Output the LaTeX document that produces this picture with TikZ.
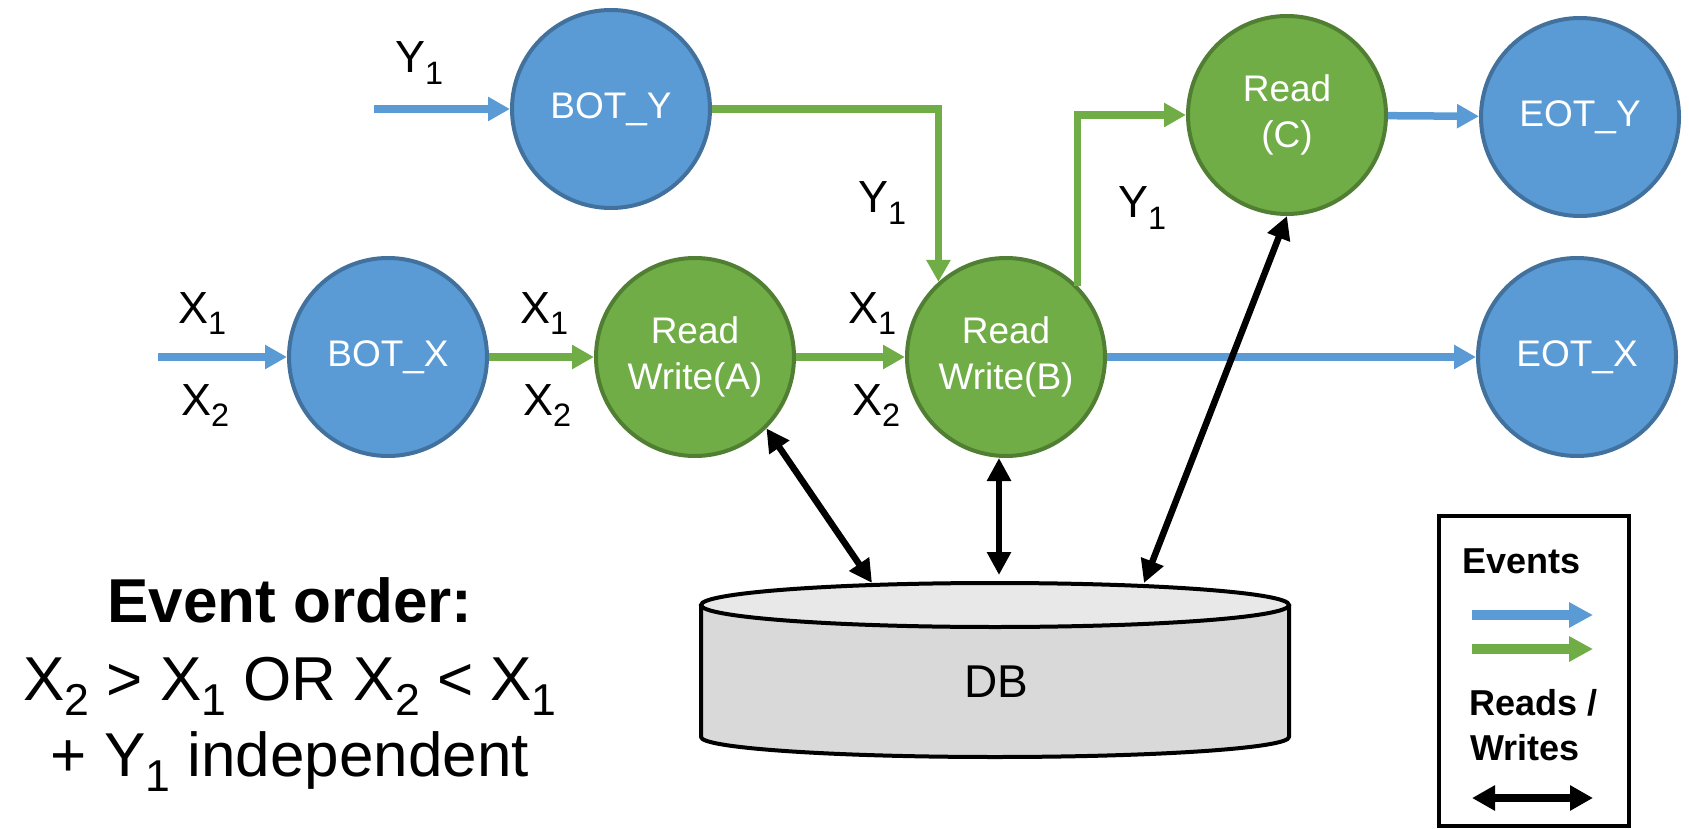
\documentclass[tikz,border=0pt]{standalone}
\usepackage{fontspec}
\setmainfont{Liberation Sans}
\usetikzlibrary{arrows.meta,calc}
\definecolor{nodeblue}{HTML}{5B9BD5}
\definecolor{blueedge}{HTML}{41719C}
\definecolor{nodegreen}{HTML}{70AD47}
\definecolor{greenedge}{HTML}{507E32}
\definecolor{dbtop}{HTML}{E8E8E8}
\definecolor{dbside}{HTML}{D9D9D9}
\newcommand\lowsub[1]{\raisebox{-0.25em}{\scalebox{0.72}{#1}}}
\begin{document}
\begin{tikzpicture}[x=1pt,y=-1pt,
  bluecirc/.style={circle, fill=nodeblue, draw=blueedge, line width=4pt,
    minimum size=198pt, inner sep=0pt, text=white,
    font=\fontsize{37}{46}\selectfont, align=center},
  greencirc/.style={bluecirc, fill=nodegreen, draw=greenedge},
  bluearrow/.style={draw=nodeblue, line width=7.5pt, -{Triangle[length=22pt,width=23pt]}},
  greenarrow/.style={bluearrow, draw=nodegreen},
  rwarrow/.style={draw=black, line width=6.5pt,
    {Triangle[length=23pt,width=23pt]}-{Triangle[length=23pt,width=23pt]}},
  lbl/.style={anchor=base west, inner sep=0pt, font=\fontsize{45}{54}\selectfont},
  ordertxt/.style={anchor=base, inner sep=0pt, font=\fontsize{62}{77}\selectfont},
  legtxt/.style={anchor=base west, inner sep=0pt, font=\fontsize{36}{44}\selectfont\bfseries},
]
\useasboundingbox (0,0) rectangle (1689,829);

% ---- nodes ----
\node[bluecirc]  (BOTY) at (611,109) {BOT\_Y};
\node[bluecirc]  (BOTX) at (388,357) {BOT\_X};
\node[greencirc] (A)    at (695,357) {Read\\Write(A)};
\node[greencirc] (B)    at (1006,357) {Read\\Write(B)};
\node[greencirc] (C)    at (1287,115) {Read\\(C)};
\node[bluecirc]  (EOTY) at (1580,117) {EOT\_Y};
\node[bluecirc]  (EOTX) at (1577,357) {EOT\_X};

% ---- DB cylinder ----
\fill[dbside] (701,605) -- (701,737)
  arc[start angle=180, end angle=360, x radius=294pt, y radius=20pt]
  -- (1289,605) -- cycle;
\draw[line width=4pt, line join=round] (701,605) -- (701,737)
  arc[start angle=180, end angle=360, x radius=294pt, y radius=20pt]
  -- (1289,605);
\filldraw[fill=dbtop, line width=4pt] (995,605) ellipse [x radius=294pt, y radius=22pt];
\node[font=\fontsize{46}{55}\selectfont, inner sep=0pt] (DB) at (996,682) {DB};

% ---- event arrows ----
\coordinate (yin) at (374,109);
\coordinate (xin) at (158,357);
\draw[bluearrow] (yin) -- (BOTY);
\draw[bluearrow] (xin) -- (BOTX);
\draw[greenarrow] (BOTX) -- (A);
\draw[greenarrow] (A) -- (B);
\draw[greenarrow] (BOTY.east) -| (B.132);
\draw[greenarrow] (B.45) |- (C.west);
\draw[bluearrow] (C) -- (EOTY);
\draw[bluearrow] (B) -- (EOTX);

% ---- read/write arrows ----
\coordinate (dbA) at (872,583);
\coordinate (dbB) at (999,575);
\coordinate (dbC) at (1144,583);
\coordinate (bB) at (dbB |- B.south);
\draw[rwarrow] (A.south east) -- (dbA);
\draw[rwarrow] (bB) -- (dbB);
\draw[rwarrow] (C.south) -- (dbC);

% ---- labels ----
\node[lbl] (ly0) at (395,73) {Y\lowsub{1}};
\node[lbl] (lx1a) at (178,323) {X\lowsub{1}};
\node[lbl] (lx2a) at (181,415) {X\lowsub{2}};
\node[lbl] (lx1b) at (520,323) {X\lowsub{1}};
\node[lbl] (lx2b) at (523,415) {X\lowsub{2}};
\node[lbl] (lx1c) at (848,323) {X\lowsub{1}};
\node[lbl] (lx2c) at (852,415) {X\lowsub{2}};
\node[lbl] (ly1) at (858,213) {Y\lowsub{1}};
\node[lbl] (ly2) at (1118,218) {Y\lowsub{1}};

% ---- event order text ----
\node[ordertxt] (order1) at (290,622) {\bfseries Event order:};
\node[ordertxt] (order2) at (290,700) {X\lowsub{2} > X\lowsub{1} OR X\lowsub{2} < X\lowsub{1}};
\node[ordertxt] (order3) at (290,776) {+ Y\lowsub{1} independent};

% ---- legend ----
\draw[line width=4.5pt] (1439,516) rectangle (1629,826);
\node[legtxt] (legev) at (1462,573) {Events};
\coordinate (lb1) at (1472,615);
\coordinate (lb2) at (1593,615);
\coordinate (lg1) at (1472,649);
\coordinate (lg2) at (1593,649);
\draw[draw=nodeblue, line width=10pt, -{Triangle[length=24pt,width=24pt]}] (lb1) -- (lb2);
\draw[draw=nodegreen, line width=10pt, -{Triangle[length=24pt,width=24pt]}] (lg1) -- (lg2);
\node[legtxt] (legrw1) at (1469,715) {Reads /};
\node[legtxt] (legrw2) at (1470,760) {Writes};
\coordinate (lk1) at (1472,798);
\coordinate (lk2) at (1593,798);
\draw[line width=8pt, {Triangle[length=23pt,width=24pt]}-{Triangle[length=23pt,width=24pt]}] (lk1) -- (lk2);
\end{tikzpicture}
\end{document}
